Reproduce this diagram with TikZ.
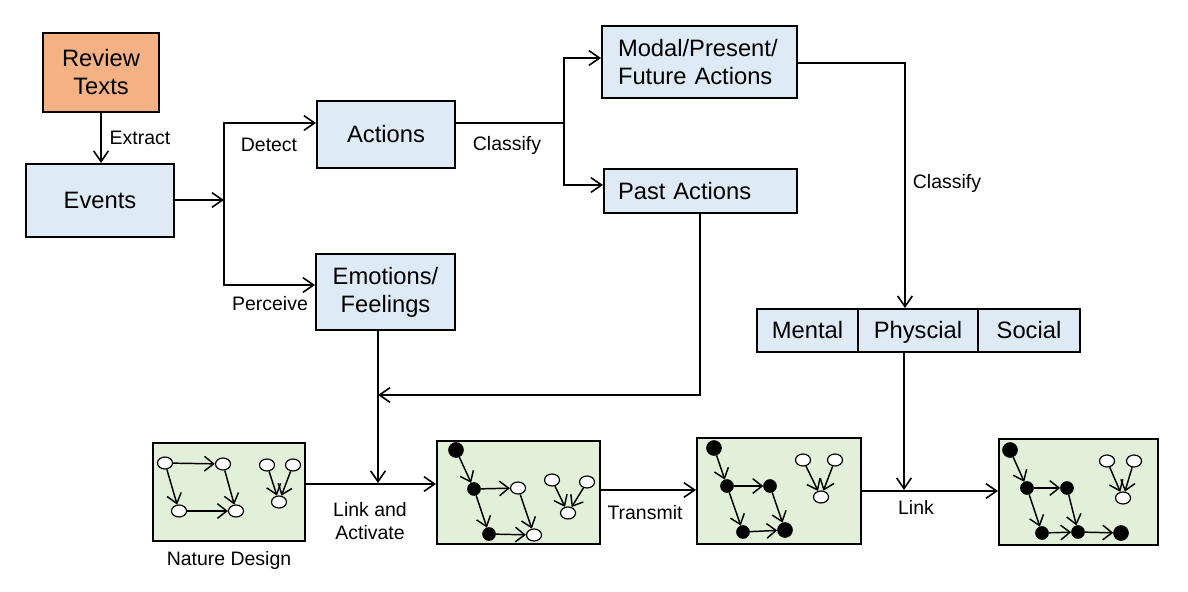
\documentclass[tikz,border=0pt]{standalone}
\usepackage{fontspec}
\setmainfont{Liberation Sans}
\usetikzlibrary{arrows.meta,shapes.geometric}
\definecolor{boxblue}{HTML}{DEEBF7}
\definecolor{boxgreen}{HTML}{E2F0D9}
\definecolor{boxorange}{HTML}{F4B183}
\begin{document}
\begin{tikzpicture}[x=0.75pt,y=-0.75pt,
 box/.style={draw, line width=1.5pt, fill=boxblue, font=\fontsize{17.8}{21}\selectfont, align=center, inner sep=0pt},
 onel/.style={text height=15.5pt, text depth=3pt},
 gbox/.style={draw, line width=1.5pt, fill=boxgreen, inner sep=0pt},
 lbl/.style={font=\fontsize{14.6}{17.5}\selectfont, align=center, inner sep=0pt},
 arr/.style={line width=1.2pt, -{Straight Barb[length=8pt,width=11pt]}},
 ln/.style={line width=1.2pt},
 wn/.style={draw, line width=0.9pt, fill=white, ellipse, minimum width=11.25pt, minimum height=9pt, inner sep=0pt},
 bn/.style={draw, fill=black, circle, minimum size=9.75pt, inner sep=0pt},
 bbn/.style={bn, minimum size=11.25pt},
 ge/.style={line width=1.1pt, -{Straight Barb[length=7pt,width=11pt]}}
]
\useasboundingbox (0,0) rectangle (1188,592);

% main boxes
\node[box, fill=boxorange, minimum width=87pt, minimum height=59.25pt] (rev) at (101,72.5) {Review\\Texts};
\node[box, onel, minimum width=111pt, minimum height=54.75pt] (ev) at (100,200.5) {Events};
\node[box, onel, minimum width=103.5pt, minimum height=50.25pt] (act) at (386,134.5) {Actions};
\node[box, minimum width=104.25pt, minimum height=57pt] (emo) at (385.5,292) {Emotions/\\Feelings};
\node[box, minimum width=146.25pt, minimum height=54pt, text width=122.25pt, align=left] (modal) at (699.5,62) {Modal/Present/\\Future Actions};
\node[box, onel, minimum width=144.75pt, minimum height=33pt, text width=123.75pt, align=left] (past) at (700.5,191) {Past Actions};
\node[box, onel, minimum width=75.75pt, minimum height=32.25pt] (men) at (807.5,330.5) {Mental};
\node[box, onel, minimum width=90pt, minimum height=32.25pt] (phys) at (918,330.5) {Physcial};
\node[box, onel, minimum width=76.5pt, minimum height=32.25pt] (soc) at (1029,330.5) {Social};

% graph panels
\node[gbox, minimum width=114pt, minimum height=73.5pt] (gA) at (229,492) {};
\node[gbox, minimum width=122.25pt, minimum height=77.25pt] (gB) at (518.5,492.5) {};
\node[gbox, minimum width=123pt, minimum height=79.5pt] (gC) at (779,491) {};
\node[gbox, minimum width=119.25pt, minimum height=79.5pt] (gD) at (1078.5,492) {};

% labels
\node[lbl] (lext) at (140,138) {Extract};
\node[lbl] (ldet) at (269,145) {Detect};
\node[lbl] (lper) at (270,304) {Perceive};
\node[lbl] (lcl1) at (507,145) {Classify};
\node[lbl] (lcl2) at (947,183) {Classify};
\node[lbl, font=\fontsize{14.6}{17.3}\selectfont] (llink) at (370,521) {Link and\\Activate};
\node[lbl] (ltr) at (645,513) {Transmit};
\node[lbl] (llk) at (916,507) {Link};
\node[lbl] (lnat) at (229,560) {Nature Design};

% connectors
\draw[arr] (rev.south) -- (rev.south |- ev.north);
\coordinate (j1) at (224,200);
\draw[arr] (ev.east |- j1) -- (j1);
\draw[arr] (j1) |- (act.west |- 0,123);
\draw[arr] (j1) |- (emo.west |- 0,285);
\coordinate (j2) at (564,123);
\draw[ln] (act.east |- j2) -- (j2);
\draw[arr] (j2) |- (modal.west |- 0,58);
\draw[arr] (j2) |- (past.west |- 0,185);
\draw[arr] (modal.east |- 0,63) -| (phys.north -| 905,0);
\coordinate (j3) at (378,395);
\draw[arr] (past.south -| 700,0) |- (j3);
\coordinate (j4) at (378,483);
\draw[arr] (emo.south -| j4) -- (j4);
\draw[arr] (gA.east |- 0,484) -- (gB.west |- 0,484);
\draw[arr] (gB.east |- 0,490) -- (gC.west |- 0,490);
\coordinate (j5) at (904,490);
\draw[arr] (phys.south -| j5) -- (j5);
\draw[arr] (gC.east |- 0,491) -- (gD.west |- 0,491);

% panel 1
\node[wn] (a1) at (165,463) {};
\node[wn] (b1) at (223,464) {};
\node[wn] (c1) at (179,511) {};
\node[wn] (d1) at (236,511) {};
\node[wn] (e1) at (267,465) {};
\node[wn] (f1) at (293,465) {};
\node[wn] (h1) at (279,502) {};
\draw[ge] (a1) -- (b1);
\draw[ge] (a1) -- (c1);
\draw[ge] (b1) -- (d1);
\draw[ge] (c1) -- (d1);
\draw[ge] (e1) -- (h1);
\draw[ge] (f1) -- (h1);

% panel 2
\node[bbn] (a2) at (456,450) {};
\node[bn] (b2) at (474,489) {};
\node[wn] (c2) at (518,488) {};
\node[bn] (d2) at (489,534) {};
\node[wn] (e2) at (534,535) {};
\node[wn] (f2) at (552,480) {};
\node[wn] (g2) at (587,482) {};
\node[wn] (h2) at (568,513) {};
\draw[ge] (a2) -- (b2);
\draw[ge] (b2) -- (c2);
\draw[ge] (b2) -- (d2);
\draw[ge] (c2) -- (e2);
\draw[ge] (d2) -- (e2);
\draw[ge] (f2) -- (h2);
\draw[ge] (g2) -- (h2);

% panel 3
\node[bbn] (a3) at (714,448) {};
\node[bn] (b3) at (727,486) {};
\node[bn] (c3) at (770,486) {};
\node[bn] (d3) at (743,532) {};
\node[bbn] (e3) at (785,530) {};
\node[wn] (f3) at (803,460) {};
\node[wn] (g3) at (835,460) {};
\node[wn] (h3) at (821,497) {};
\draw[ge] (a3) -- (b3);
\draw[ge] (b3) -- (c3);
\draw[ge] (b3) -- (d3);
\draw[ge] (c3) -- (e3);
\draw[ge] (d3) -- (e3);
\draw[ge] (f3) -- (h3);
\draw[ge] (g3) -- (h3);

% panel 4
\node[bbn] (a4) at (1010,450) {};
\node[bn] (b4) at (1027,488) {};
\node[bn] (c4) at (1067,488) {};
\node[bn] (d4) at (1042,533) {};
\node[bn] (e4) at (1078,532) {};
\node[bbn] (k4) at (1121,533) {};
\node[wn] (f4) at (1107,461) {};
\node[wn] (g4) at (1134,461) {};
\node[wn] (h4) at (1123,498) {};
\draw[ge] (a4) -- (b4);
\draw[ge] (b4) -- (c4);
\draw[ge] (b4) -- (d4);
\draw[ge] (c4) -- (e4);
\draw[ge] (d4) -- (e4);
\draw[ge] (e4) -- (k4);
\draw[ge] (f4) -- (h4);
\draw[ge] (g4) -- (h4);
\end{tikzpicture}
\end{document}
